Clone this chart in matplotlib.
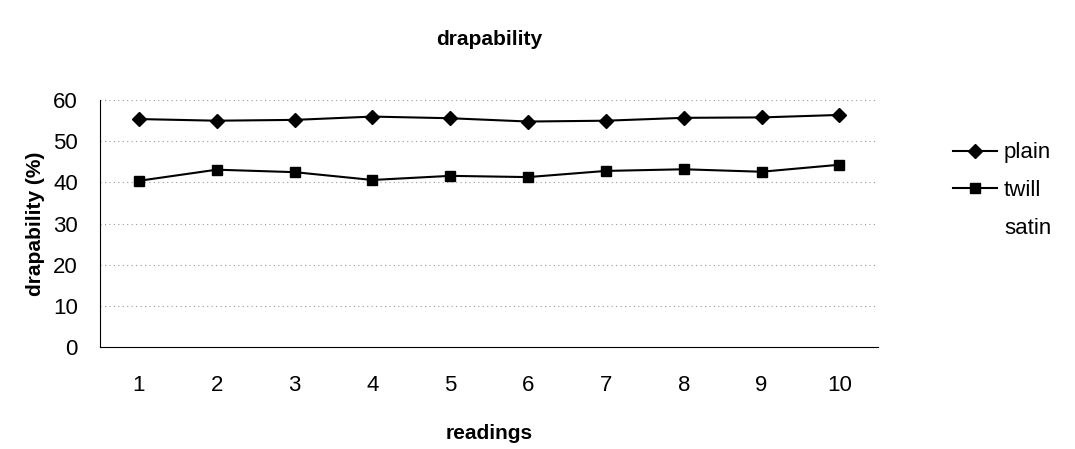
import matplotlib
matplotlib.use("Agg")
import matplotlib.pyplot as plt
import numpy as np

plt.rcParams["font.family"] = ["Liberation Sans", "DejaVu Sans"]

readings = [1, 2, 3, 4, 5, 6, 7, 8, 9, 10]
plain = [55.4, 55.0, 55.2, 56.0, 55.6, 54.8, 55.0, 55.7, 55.8, 56.4]
twill = [40.4, 43.1, 42.5, 40.6, 41.6, 41.3, 42.8, 43.2, 42.6, 44.3]
satin = [np.nan] * 10

fig = plt.figure(figsize=(10.75, 4.49), dpi=100)
ax = fig.add_axes([0.093, 0.227, 0.724, 0.55])

for y in range(10, 61, 10):
    ax.axhline(y, color="#9a9a9a", linestyle=(0, (1, 3)), linewidth=0.8, zorder=0)

ax.plot(readings, plain, color="black", marker="D", markersize=7, linewidth=1.5, label="plain")
ax.plot(readings, twill, color="black", marker="s", markersize=7, linewidth=1.5, label="twill")
ax.plot(readings, satin, color="none", label="satin")

ax.set_xlim(0.5, 10.5)
ax.set_ylim(0, 60)
ax.set_xticks(readings)
ax.set_yticks(range(0, 61, 10))
ax.tick_params(axis="x", length=0, labelsize=16, pad=20)
ax.tick_params(axis="y", length=0, labelsize=16, pad=16)
for side in ("top", "right"):
    ax.spines[side].set_visible(False)

ax.set_title("drapability", fontsize=15, fontweight="bold", pad=40)
ax.set_xlabel("readings", fontsize=15, fontweight="bold", labelpad=20)
ax.set_ylabel("drapability (%)", fontsize=15, fontweight="bold", labelpad=6)

ax.legend(loc="upper left", bbox_to_anchor=(1.07, 0.91), frameon=False,
          fontsize=16, handlelength=2.0, labelspacing=0.75, handletextpad=0.3)

fig.savefig("out.png", dpi=100)
